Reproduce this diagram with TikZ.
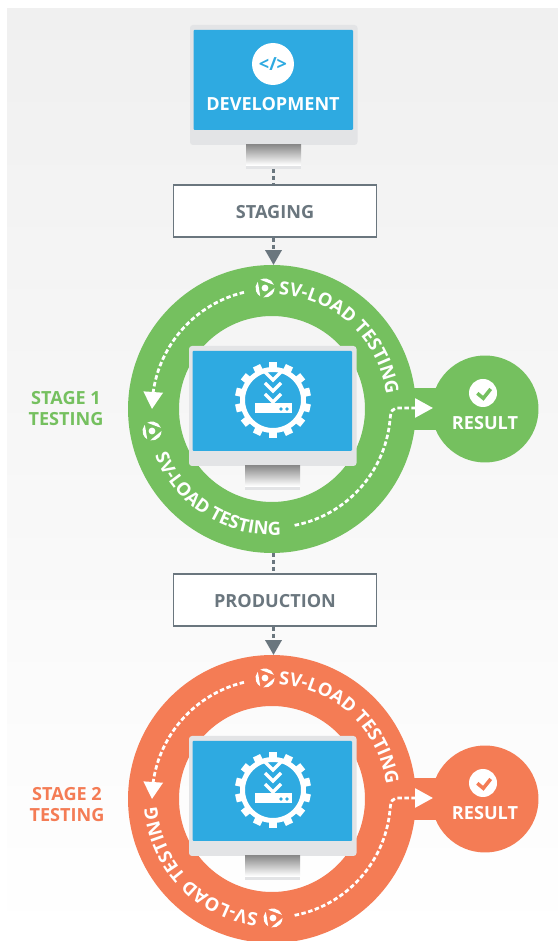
\documentclass[tikz,border=0pt]{standalone}
\usepackage{fontspec}
\setmainfont{Open Sans}
\usetikzlibrary{arrows.meta,bending,decorations.text}

\definecolor{stgreen}{HTML}{75C05F}
\definecolor{storange}{HTML}{F47C55}
\definecolor{screenblue}{HTML}{2EAAE1}
\definecolor{linegray}{HTML}{6A767E}
\definecolor{bezelgray}{HTML}{E3E4E6}
\definecolor{bgtop}{HTML}{F0F0F0}

\newcommand{\capsfont}{\fontsize{10.3}{12}\selectfont\bfseries}
\newcommand{\ringfont}{\fontsize{10.4}{12}\selectfont\bfseries}

\tikzset{
  stagebox/.style={draw=linegray,fill=white,line width=0.03cm,minimum width=4.06cm,minimum height=1.04cm,text height=0.29cm,text=linegray,font=\capsfont},
  ringnode/.style={circle,draw=#1,line width=1.02cm,minimum size=4.74cm,inner sep=0pt},
  resultnode/.style={circle,fill=#1,minimum size=2.14cm,inner sep=0pt},
  resultbar/.style={draw=#1,line width=0.84cm,shorten <=-0.2cm,shorten >=-0.2cm},
  graydash/.style={draw=linegray,line width=0.07cm,dash pattern=on 0.08cm off 0.06cm},
  whitedash/.style={draw=white,line width=0.055cm,dash pattern=on 0.09cm off 0.05cm},
  ringtext/.style={decorate,decoration={text along path,text align=center,text={|\ringfont\color{white}|SV-LOAD TESTING}}},
  whitelabel/.style={text=white,font=\capsfont},
}

% monitor drawn around its own origin, #3 is the foot of the stand
\newcommand{\drawmonitor}[3]{
  \begin{scope}[shift={(#1,#2)}]
    \fill[bezelgray,rounded corners=0.06cm] (-83,63) rectangle (84.5,-57);
    \fill[screenblue,rounded corners=0.02cm] (-79.5,58) rectangle (80,-42);
    \shade[top color=black!45,bottom color=white] (-27,-57) rectangle (28,-77);
    \fill[white] (-27,-77) rectangle (28,-78);
    \fill[bezelgray] (-27,-78) rectangle (28,-81);
    \coordinate (#3) at (0.5,-81);
  \end{scope}
}

% gear with the chevrons and the server
\newcommand{\drawgear}{
  \begin{scope}[shift={(1,9)}]
    \draw[white,line width=0.1cm] (0,0) circle (30.5);
    \foreach \a in {0,...,13} {
      \fill[white,rotate=90+\a*360/14] (30,-4) rectangle (38,4);
    }
    \foreach \t in {20,9,-2} {
      \draw[white,line width=0.07cm] (-8,\t+8) -- (0,\t) -- (8,\t+8);
    }
    \fill[white] (-18,-3) rectangle (19,-13);
    \fill[screenblue] (8,-9) circle (1.8) (14,-9) circle (1.8);
  \end{scope}
}

% swirl logo
\newcommand{\drawswirl}[2]{
  \begin{scope}[shift={(#1,#2)}]
    \fill[white] (0,0) circle (3.4);
    \foreach \a in {20,140,260} {
      \fill[white,rotate=\a] (9.5,0) arc[start angle=0,end angle=100,radius=9.5]
        .. controls (70:6.6) and (25:6.4) .. (9.5,0);
    }
  \end{scope}
}

\begin{document}
\begin{tikzpicture}[x=0.02cm,y=0.02cm]
\clip (0,0) rectangle (558,941);
\shade[top color=bgtop,bottom color=white] (7,0) rectangle (558,932);

% development
\drawmonitor{273}{853}{stand0}
\node (codeicon) [circle,fill=white,minimum size=0.84cm,inner sep=0pt,text=screenblue,font=\capsfont] at (273,877) {</>};
\node (development) [whitelabel] at (273,837) {DEVELOPMENT};

\node (staging) [stagebox] at (275,730) {STAGING};
\node (production) [stagebox] at (275,341) {PRODUCTION};

\node (ring1) [ringnode=stgreen] at (272,532) {};
\node (ring2) [ringnode=storange] at (272,142) {};
\node (result1) [resultnode=stgreen] at (485,532) {};
\node (result2) [resultnode=storange] at (485,142) {};
\draw[resultbar=stgreen] (ring1.east) -- (result1.west);
\draw[resultbar=storange] (ring2.east) -- (result2.west);

% dashed links down the page
\draw[graydash] (stand0) -- (stand0 |- staging.north);
\draw[graydash,-{Triangle[length=0.3cm,width=0.32cm]}] (stand0 |- staging.south) -- (stand0 |- ring1.north);
\draw[graydash] (stand0 |- ring1.south) -- (stand0 |- production.north);
\draw[graydash,-{Triangle[length=0.3cm,width=0.32cm]}] (stand0 |- production.south) -- (stand0 |- ring2.north);

% what both stages share
\foreach \cy/\idx in {532/1,142/2} {
  \begin{scope}[shift={(272,\cy)}]
    \drawmonitor{0}{0}{stand\idx}
    \drawgear
    \draw[whitedash,-{Triangle[length=0.34cm,width=0.38cm]}] (103.5:120) arc[start angle=103.5,end angle=180,radius=120];
    \draw[whitedash,-{Triangle[length=0.36cm,width=0.38cm]}] (-79:118.5) arc[start angle=-79,end angle=-6,radius=118.5]
      .. controls (118.8,-1) and (120,1) .. (128,1) -- (161,1);
    \path[ringtext] (88:115) arc[start angle=88,end angle=6,radius=115];
    \drawswirl{-7}{121}
    \fill[white] (211,16) circle (14);
    \node (result\idx text) [whitelabel] at (213,-14) {RESULT};
  \end{scope}
}

% stage 1 only
\begin{scope}[shift={(272,532)}]
  \path[ringtext] (198:126) arc[start angle=198,end angle=278,radius=126];
  \drawswirl{-120}{-22}
  \draw[stgreen,line width=0.07cm] (205.3,15.7) -- (211.3,10.7) -- (218.7,20);
\end{scope}

% stage 2 only
\begin{scope}[shift={(272,142)}]
  \path[ringtext] (265:115) arc[start angle=265,end angle=182,radius=115];
  \drawswirl{1}{-119}
  \draw[storange,line width=0.07cm] (205.3,15.7) -- (211.3,10.7) -- (218.7,20);
\end{scope}

\node (stage1) [align=center,text=stgreen,font=\capsfont] at (66,532.5) {STAGE 1\\TESTING};
\node (stage2) [align=center,text=storange,font=\capsfont] at (67,136.5) {STAGE 2\\TESTING};
\end{tikzpicture}
\end{document}
